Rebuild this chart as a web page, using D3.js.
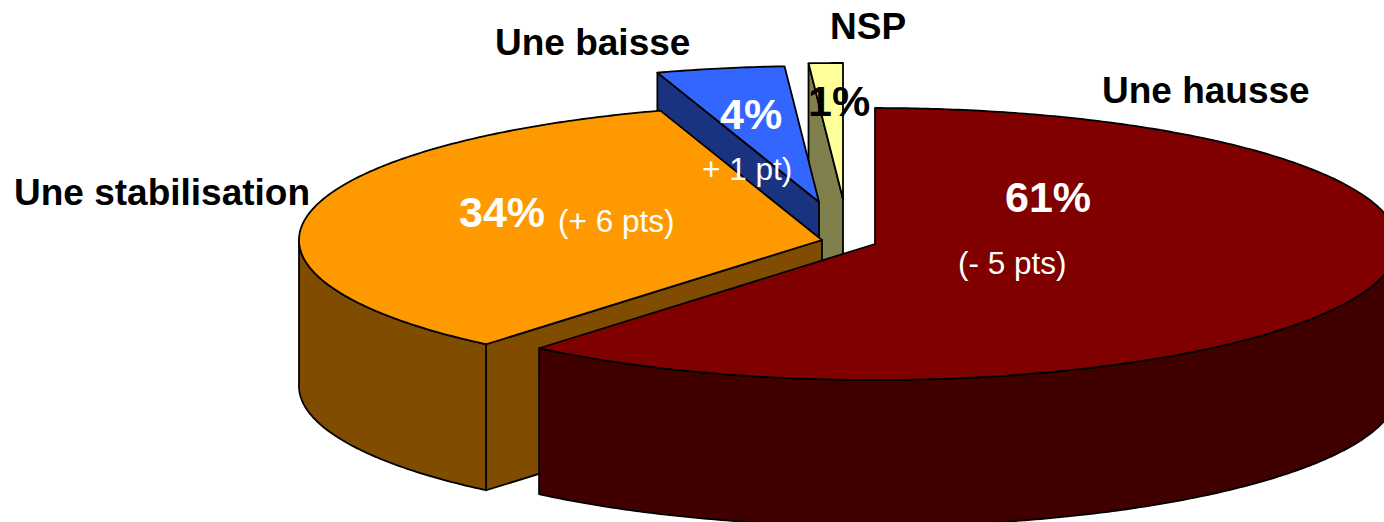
<!DOCTYPE html>
<html>
<head>
<meta charset="utf-8">
<script src="https://cdn.jsdelivr.net/npm/d3@7"></script>
<style>
html, body { margin: 0; padding: 0; background: #fff; overflow: hidden; }
svg { display: block; }
text { font-family: "Liberation Sans", Arial, sans-serif; }
</style>
</head>
<body>
<div id="graph"></div>
<script>
const categories = ["Une hausse", "Une stabilisation", "Une baisse", "NSP"];
// slice sizes as measured on the picture, the labels are the rounded ones
const values = [61.1, 33.9, 3.95, 1.05];
const valueLabels = ["61%", "34%", "4%", "1%"];
const changes = ["(- 5 pts)", "(+ 6 pts)", "+ 1 pt)", ""];

const topColors = ["#800000", "#ff9900", "#3366ff", "#ffff99"];
const sideColors = ["#400000", "#804d00", "#1a3380", "#80804d"];

// pie geometry
const w = 1384,
      h = 522,
      rx = 523,
      ry = 136,
      depth = 146;
const centers = [[875, 244], [822, 240], [819, 202], [843, 199]];

const namePos = [[1102, 103], [14, 205], [495, 55], [830, 39]];
const valuePos = [[1005, 212], [459, 227], [720, 129], [808, 116]];
const valueColor = ["#fff", "#fff", "#fff", "#000"];
const changePos = [[958, 274], [558, 232], [702, 180]];

const vis = d3.select("#graph")
    .append("svg")
    .attr("width", w)
    .attr("height", h);

const pie = d3.pie().sort(null).value(function(d) { return d; });
const arcs = pie(values);

// unit circle -> ellipse
const xs = d3.scaleLinear().domain([-1, 1]).range([-rx, rx]);
const ys = d3.scaleLinear().domain([-1, 1]).range([-ry, ry]);

function px(i, a) { return centers[i][0] + xs(Math.sin(a)); }
function py(i, a) { return centers[i][1] + ys(-Math.cos(a)); }

const line = d3.line();

function rimPoints(i, a0, a1, dy) {
    const n = Math.max(2, Math.ceil(Math.abs(a1 - a0) / 0.01));
    return d3.range(n + 1).map(function(k) {
        const a = a0 + (a1 - a0) * k / n;
        return [px(i, a), py(i, a) + dy];
    });
}

function topPath(d, i) {
    return line([centers[i]].concat(rimPoints(i, d.startAngle, d.endAngle, 0))) + "Z";
}

// outer wall, only the part of the rim facing the viewer
function wallPath(d, i) {
    const a0 = Math.max(d.startAngle, Math.PI / 2),
          a1 = Math.min(d.endAngle, 3 * Math.PI / 2);
    if (a1 <= a0) return null;
    return line(rimPoints(i, a0, a1, 0).concat(rimPoints(i, a1, a0, depth))) + "Z";
}

// flat cut face from the centre to the rim at one angle
function cutPath(i, a) {
    const c = centers[i];
    return line([c, [px(i, a), py(i, a)], [px(i, a), py(i, a) + depth], [c[0], c[1] + depth]]) + "Z";
}

// painter's order: back slices first
const order = [3, 2, 1, 0];

order.forEach(function(i) {
    const d = arcs[i];
    const g = vis.append("g").attr("class", "slice");
    // the cut face on the left side only shows for slices pulled out of the pie
    if (i > 0) {
        g.append("path")
            .attr("d", cutPath(i, d.startAngle))
            .attr("fill", sideColors[i])
            .attr("stroke", "#000")
            .attr("stroke-width", 1.8)
            .attr("stroke-linejoin", "round");
    }
    const wall = wallPath(d, i);
    if (wall) {
        g.append("path")
            .attr("d", wall)
            .attr("fill", sideColors[i])
            .attr("stroke", "#000")
            .attr("stroke-width", 1.8)
            .attr("stroke-linejoin", "round");
    }
    g.append("path")
        .attr("d", topPath(d, i))
        .attr("fill", topColors[i])
        .attr("stroke", "#000")
        .attr("stroke-width", 1.8)
        .attr("stroke-linejoin", "round");
});

vis.selectAll("text.name")
    .data(categories)
    .enter()
    .append("text")
    .attr("class", "name")
    .attr("x", function(d, i) { return namePos[i][0]; })
    .attr("y", function(d, i) { return namePos[i][1]; })
    .attr("font-size", "37px")
    .attr("font-weight", "bold")
    .attr("fill", "#000")
    .text(function(d) { return d; });

vis.selectAll("text.change")
    .data(changes.filter(function(d) { return d; }))
    .enter()
    .append("text")
    .attr("class", "change")
    .attr("x", function(d, i) { return changePos[i][0]; })
    .attr("y", function(d, i) { return changePos[i][1]; })
    .attr("font-size", "31.5px")
    .attr("fill", "#fff")
    .text(function(d) { return d; });

vis.selectAll("text.val")
    .data(valueLabels)
    .enter()
    .append("text")
    .attr("class", "val")
    .attr("x", function(d, i) { return valuePos[i][0]; })
    .attr("y", function(d, i) { return valuePos[i][1]; })
    .attr("font-size", "43px")
    .attr("font-weight", "bold")
    .attr("fill", function(d, i) { return valueColor[i]; })
    .text(function(d) { return d; });
</script>
</body>
</html>
